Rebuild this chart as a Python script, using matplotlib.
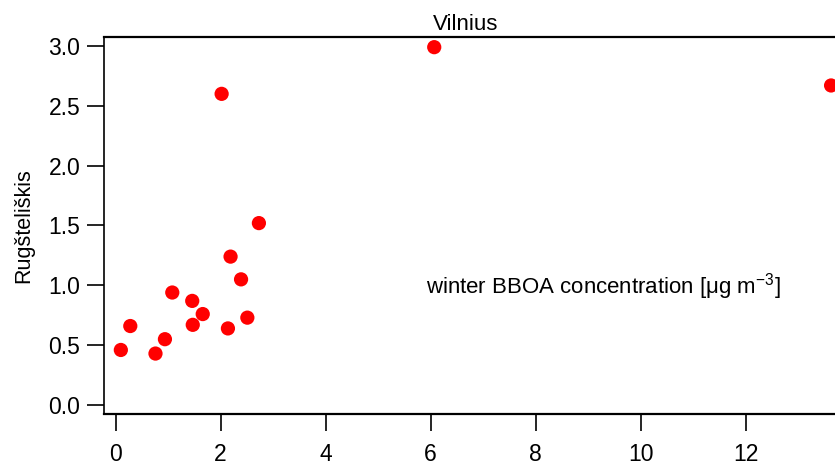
import matplotlib
matplotlib.use("Agg")
import matplotlib.pyplot as plt

# winter BBOA, Vilnius (x) vs Rugšteliškis (y)
vilnius = [0.10, 0.28, 0.76, 0.94, 1.08, 1.46, 1.47, 1.66, 2.02, 2.14,
           2.19, 2.39, 2.51, 2.73, 6.07, 13.63]
rugsteliskis = [0.46, 0.66, 0.43, 0.55, 0.94, 0.87, 0.67, 0.76, 2.60, 0.64,
                1.24, 1.05, 0.73, 1.52, 2.99, 2.67]

x_ticks = [0, 2, 4, 6, 8, 10, 12]
y_ticks = [0.0, 0.5, 1.0, 1.5, 2.0, 2.5, 3.0]

plt.rcParams['font.family'] = ['Liberation Sans', 'DejaVu Sans']
plt.rcParams['mathtext.fontset'] = 'custom'
plt.rcParams['mathtext.rm'] = 'Liberation Sans'

fig = plt.figure(figsize=(8.35, 4.66), dpi=100)
ax = fig.add_axes([0.1246, 0.1116, 0.8814, 0.809])

ax.scatter(vilnius, rugsteliskis, s=105, color='#ff0000', edgecolors='none',
           zorder=3, clip_on=False)

ax.set_xlim(-0.22, 13.80)
ax.set_ylim(-0.075, 3.075)
ax.set_xticks(x_ticks)
ax.set_yticks(y_ticks)
ax.set_yticklabels([f"{v:.1f}" for v in y_ticks])

ax.tick_params(axis='x', direction='out', length=12, width=1.2,
               pad=9, labelsize=16.5)
ax.tick_params(axis='y', direction='out', length=12, width=1.2,
               pad=5, labelsize=16.5)
for side in ['top', 'bottom']:
    ax.spines[side].set_linewidth(1.6)
ax.spines['left'].set_linewidth(1.2)

ax.set_ylabel("Rugšteliškis", fontsize=15.5, labelpad=10)
fig.text(466 / 835, 1 - 25 / 466, "Vilnius", fontsize=16,
         ha='center', va='center')
fig.text(426 / 835, 1 - 287 / 466,
         r"winter BBOA concentration [$\mathrm{\mu}$g m$^{\mathrm{-3}}$]",
         fontsize=16, ha='left', va='center')

fig.savefig("out.png", dpi=100)
